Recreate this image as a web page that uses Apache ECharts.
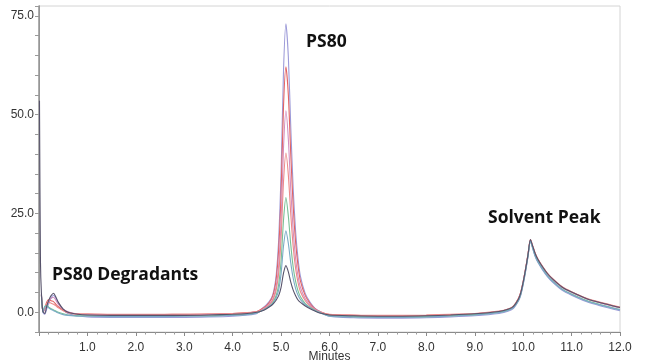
<!DOCTYPE html>
<html>
<head>
<meta charset="utf-8">
<script src="https://cdn.jsdelivr.net/npm/echarts@6/dist/echarts.min.js"></script>
<style>
html,body{margin:0;padding:0;background:#fff;}
#chart{width:650px;height:362px;}
</style>
</head>
<body>
<div id="chart"></div>
<script>
// Retention time grid (minutes)
var minutes = [0, 0.01, 0.03, 0.05, 0.08, 0.12, 0.16, 0.2, 0.25, 0.3, 0.35, 0.4, 0.5, 0.6, 0.8,
  1.0, 1.5, 2.0, 2.5, 3.0, 3.5, 4.0, 4.3, 4.5,
  4.6, 4.7, 4.8, 4.85, 4.9, 4.95, 5.0, 5.05, 5.1, 5.15, 5.2, 5.25, 5.3, 5.35, 5.4, 5.5, 5.6, 5.7, 5.8, 6.0,
  6.5, 7.0, 7.5, 8.0, 8.5, 9.0, 9.5, 9.7, 9.8,
  9.9, 9.95, 10.0, 10.05, 10.1, 10.15, 10.2, 10.25, 10.3, 10.4, 10.5, 10.6, 10.8, 11.0, 11.3, 11.6, 12.0];

// Detector response traces
var traceLavender = [null, null, null, 4.6, 0.0, -0.5, 0.8, 2.2, 3.6, 4.3, 3.5, 2.3, 0.6, -0.3, -0.9,
  -1.2, -1.3, -1.3, -1.3, -1.3, -1.2, -1.0, -0.7, -0.3,
  0.9, 1.9, 3.6, 5.5, 9.5, 18.2, 35.2, 61.1, 73.0, 64.6, 46.9, 31.3, 20.5, 13.6, 9.1, 4.7, 2.5, 1.0, 0.2, -1.0,
  -1.4, -1.5, -1.5, -1.4, -1.2, -0.9, -0.3, 0.3, 1.0,
  2.8, 4.3, 7.0, 10.3, 14.0, 18.0, 16.0, 14.0, 12.7, 10.7, 9.0, 7.7, 5.6, 4.3, 2.7, 1.6, 0.4];
var traceRed = [null, null, null, 4.5, 0.3, 1.2, 2.6, 3.2, 2.9, 2.7, 2.0, 1.4, 0.5, 0.0, -0.4,
  -0.5, -0.6, -0.6, -0.6, -0.5, -0.5, -0.3, -0.1, 0.2,
  0.8, 1.7, 3.3, 5.0, 8.4, 15.8, 30.2, 52.1, 62.1, 55.0, 40.0, 26.8, 17.7, 11.8, 7.9, 4.2, 2.2, 0.9, 0.2, -0.6,
  -0.8, -0.9, -0.9, -0.8, -0.6, -0.4, 0.2, 0.8, 1.5,
  3.4, 5.0, 7.7, 11.0, 14.7, 18.4, 16.6, 14.8, 13.5, 11.5, 9.8, 8.5, 6.4, 5.1, 3.5, 2.4, 1.2];
var tracePink = [null, null, null, 4.5, 0.2, 0.6, 1.8, 2.8, 3.5, 3.8, 3.0, 2.0, 0.8, 0.1, -0.5,
  -0.6, -0.7, -0.7, -0.7, -0.7, -0.6, -0.4, -0.2, 0.1,
  0.6, 1.4, 2.7, 4.0, 6.6, 11.9, 23.2, 41.6, 51.0, 43.8, 31.1, 20.6, 13.6, 9.1, 6.3, 3.4, 1.8, 0.7, 0.1, -0.8,
  -1.0, -1.1, -1.1, -1.0, -0.8, -0.5, 0.1, 0.7, 1.4,
  3.3, 4.9, 7.6, 10.9, 14.6, 18.3, 16.5, 14.7, 13.4, 11.4, 9.7, 8.4, 6.3, 5.0, 3.4, 2.3, 1.1];
var traceSalmon = [null, null, null, 4.4, 0.3, 1.0, 2.2, 2.5, 2.3, 2.0, 1.6, 1.1, 0.4, -0.1, -0.5,
  -0.4, -0.5, -0.5, -0.5, -0.5, -0.4, -0.3, -0.1, 0.2,
  0.5, 1.3, 2.4, 3.6, 5.7, 9.9, 18.7, 33.0, 40.3, 34.7, 24.8, 16.6, 11.1, 7.5, 5.2, 2.9, 1.5, 0.6, 0.0, -0.5,
  -0.7, -0.8, -0.8, -0.7, -0.5, -0.3, 0.3, 0.9, 1.6,
  3.5, 5.1, 7.8, 11.1, 14.8, 18.4, 16.7, 14.9, 13.6, 11.6, 9.9, 8.6, 6.5, 5.2, 3.6, 2.5, 1.3];
var traceGreen = [null, null, null, 4.3, 0.2, 1.5, 1.7, 1.3, 0.9, 0.6, 0.3, 0.0, -0.4, -0.7, -0.9,
  -0.9, -1.0, -1.0, -1.0, -0.9, -0.9, -0.7, -0.5, -0.1,
  0.4, 1.1, 2.0, 2.9, 4.3, 7.0, 12.9, 23.3, 29.0, 24.3, 17.1, 11.4, 7.8, 5.4, 3.9, 2.2, 1.2, 0.5, -0.1, -0.9,
  -1.1, -1.2, -1.2, -1.1, -0.9, -0.6, 0.0, 0.6, 1.3,
  3.0, 4.6, 7.3, 10.6, 14.3, 18.1, 16.2, 14.3, 13.0, 11.0, 9.3, 8.0, 5.9, 4.6, 3.0, 1.9, 0.7];
var traceTeal = [null, null, null, 4.3, 0.0, 1.4, 1.5, 1.1, 0.7, 0.4, 0.1, -0.2, -0.6, -0.8, -1.0,
  -1.0, -1.1, -1.1, -1.1, -1.0, -1.0, -0.8, -0.6, -0.2,
  0.4, 1.0, 1.9, 2.6, 3.7, 5.6, 9.7, 16.7, 20.6, 17.4, 12.5, 8.6, 6.0, 4.3, 3.2, 1.9, 1.1, 0.4, -0.1, -1.0,
  -1.2, -1.3, -1.3, -1.2, -1.0, -0.7, -0.1, 0.5, 1.2,
  2.9, 4.5, 7.2, 10.5, 14.2, 18.0, 16.1, 14.2, 12.9, 10.9, 9.2, 7.9, 5.8, 4.5, 2.9, 1.8, 0.6];
var traceDark = [null, 53.5, 13.0, 4.8, 0.2, -0.3, 1.5, 3.0, 4.2, 4.8, 3.8, 2.5, 0.8, 0.0, -0.5,
  -0.7, -0.8, -0.8, -0.8, -0.8, -0.7, -0.5, -0.3, 0.0,
  0.3, 0.9, 1.7, 2.3, 3.1, 4.2, 6.3, 9.9, 11.8, 10.2, 7.6, 5.6, 4.2, 3.1, 2.5, 1.6, 0.9, 0.3, -0.2, -0.7,
  -0.9, -1.0, -1.0, -0.9, -0.7, -0.4, 0.2, 0.8, 1.5,
  3.3, 4.9, 7.6, 10.9, 14.6, 18.4, 16.6, 14.8, 13.5, 11.5, 9.8, 8.5, 6.4, 5.1, 3.5, 2.4, 1.2];

var traces = [traceLavender, traceRed, tracePink, traceSalmon, traceGreen, traceTeal, traceDark];
var traceColors = ['#9c9ad8', '#e36464', '#d28fc0', '#ec8a8a', '#78bf95', '#7aaac6', '#57536b'];

var xTickLabels = ['1.0','2.0','3.0','4.0','5.0','6.0','7.0','8.0','9.0','10.0','11.0','12.0'];
var yTickLabels = ['0.0','25.0','50.0','75.0'];
var annotations = ['PS80', 'Solvent Peak', 'PS80 Degradants'];

function toPairs(vals) {
  var out = [];
  for (var i = 0; i < minutes.length; i++) {
    if (vals[i] !== null) out.push([minutes[i], vals[i]]);
  }
  return out;
}

var series = traces.map(function (vals, k) {
  return {
    type: 'line',
    data: toPairs(vals),
    showSymbol: false,
    smooth: 0.25,
    lineStyle: { width: 1.1, color: traceColors[k] },
    itemStyle: { color: traceColors[k] },
    silent: true
  };
});

var chart = echarts.init(document.getElementById('chart'), null, { renderer: 'canvas' });
var labelFont = 'Liberation Sans, Arial, sans-serif';
var annFont = '"Open Sans", "Noto Sans", sans-serif';

chart.setOption({
  animation: false,
  backgroundColor: '#ffffff',
  grid: { left: 39, right: 30, top: 6, bottom: 30, show: true, borderColor: '#d4d4d4', borderWidth: 1,
          containLabel: false, outerBoundsMode: 'none' },
  xAxis: {
    type: 'value', min: 0, max: 12, interval: 1,
    name: 'Minutes', nameLocation: 'middle', nameGap: 19, nameMoveOverlap: false,
    nameTextStyle: { fontFamily: labelFont, fontSize: 12, color: '#333' },
    axisLine: { show: true, onZero: false, lineStyle: { color: '#8a8a8a', width: 1 } },
    axisTick: { show: true, length: 4, lineStyle: { color: '#8a8a8a' } },
    minorTick: { show: true, splitNumber: 5, length: 2.5, lineStyle: { color: '#9a9a9a' } },
    splitLine: { show: false },
    axisLabel: {
      margin: 10, fontFamily: labelFont, fontSize: 12, color: '#333',
      formatter: function (v) { var i = Math.round(v) - 1; return (i >= 0 && i < xTickLabels.length) ? xTickLabels[i] : ''; }
    }
  },
  yAxis: [{
    type: 'value', min: -5, max: 77.5, interval: 5,
    axisLine: { show: true, onZero: false, lineStyle: { color: '#8a8a8a', width: 1 } },
    axisTick: { show: true, length: 4, lineStyle: { color: '#9a9a9a' } },
    splitLine: { show: false },
    axisLabel: {
      margin: 5, fontFamily: labelFont, fontSize: 12, color: '#333',
      formatter: function (v) {
        if (Math.abs(v % 25) > 1e-6 || v < 0) return '';
        var i = Math.round(v / 25);
        return yTickLabels[i] || '';
      }
    }
  }, {
    type: 'value', min: -5, max: 77.5, position: 'right',
    axisLine: { show: true, lineStyle: { color: '#9a9a9a', width: 1.5 } },
    axisTick: { show: false }, axisLabel: { show: false }, splitLine: { show: false }
  }],
  graphic: [
    { type: 'text', left: 306, top: 33, style: { text: annotations[0], font: 'bold 17.5px ' + annFont, fill: '#111' } },
    { type: 'text', left: 488, top: 209, style: { text: annotations[1], font: 'bold 17.5px ' + annFont, fill: '#111' } },
    { type: 'text', left: 52, top: 266, style: { text: annotations[2], font: 'bold 17.5px ' + annFont, fill: '#111' } }
  ],
  series: series
});
</script>
</body>
</html>
